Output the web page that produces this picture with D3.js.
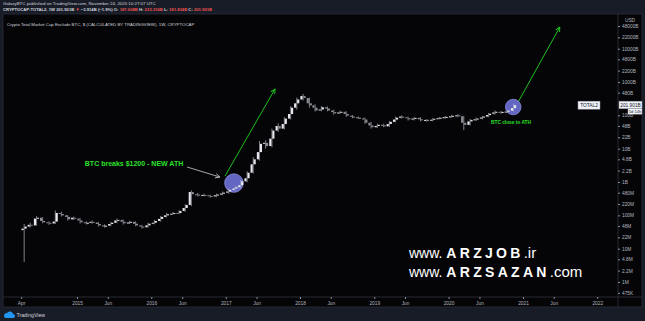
<!DOCTYPE html>
<html>
<head>
<meta charset="utf-8">
<script src="https://cdn.jsdelivr.net/npm/d3@7"></script>
<style>
  html, body { margin: 0; padding: 0; background: #161a25; }
  svg { display: block; font-family: "Liberation Sans", Arial, sans-serif; }
</style>
</head>
<body>
<svg id="chart" width="645" height="321"></svg>
<script>
// values in billions USD
const months = ["2014-04","2014-05","2014-06","2014-07","2014-08","2014-09","2014-10","2014-11","2014-12",
  "2015-01","2015-02","2015-03","2015-04","2015-05","2015-06","2015-07","2015-08","2015-09","2015-10","2015-11","2015-12",
  "2016-01","2016-02","2016-03","2016-04","2016-05","2016-06","2016-07","2016-08","2016-09","2016-10","2016-11","2016-12",
  "2017-01","2017-02","2017-03","2017-04","2017-05","2017-06","2017-07","2017-08","2017-09","2017-10","2017-11","2017-12",
  "2018-01","2018-02","2018-03","2018-04","2018-05","2018-06","2018-07","2018-08","2018-09","2018-10","2018-11","2018-12",
  "2019-01","2019-02","2019-03","2019-04","2019-05","2019-06","2019-07","2019-08","2019-09","2019-10","2019-11","2019-12",
  "2020-01","2020-02","2020-03","2020-04","2020-05","2020-06","2020-07","2020-08","2020-09","2020-10","2020-11"];
const firstOpen = 0.036;
// two closes per month (1st and 16th)
const halfCloses = [
  0.040,0.046, 0.052,0.050, 0.080,0.085, 0.068,0.062, 0.060,0.057, 0.065,0.118, 0.110,0.100, 0.090,0.076, 0.085,0.080,
  0.070,0.062, 0.058,0.060, 0.064,0.061, 0.055,0.050, 0.047,0.049, 0.055,0.060, 0.070,0.073, 0.064,0.058, 0.061,0.064, 0.056,0.050, 0.046,0.044, 0.050,0.056,
  0.060,0.068, 0.078,0.090, 0.100,0.108, 0.112,0.118, 0.117,0.135, 0.166,0.205, 0.50,0.43, 0.42,0.40, 0.41,0.40, 0.38,0.37, 0.40,0.42, 0.45,0.48,
  0.52,0.58, 0.64,0.70, 0.80,1.05, 1.3,1.9, 3.4,4.8, 7.9,14, 15,12, 20,35, 48,40, 55,80, 110,170, 230,300,
  380,330, 230,200, 170,140, 150,175, 160,140, 125,115, 122,128, 110,98, 92,88, 85,82, 75,60, 50,44,
  48,52, 50,47, 55,64, 75,85, 92,88, 82,76, 80,84, 76,72, 73,70, 74,79, 82,85, 88,90,
  93,97, 100,94, 60,52, 66,73, 76,80, 86,92, 102,112, 122,128, 124,127, 130,138, 165,202];
// monthly wick extents
const highs = [0.055,0.060,0.095,0.088,0.066,0.140,0.128,0.102,0.092,
  0.082,0.066,0.070,0.063,0.054,0.064,0.080,0.075,0.069,0.066,0.052,0.060,
  0.073,0.096,0.118,0.126,0.142,0.215,0.56,0.47,0.45,0.42,0.45,0.52,
  0.64,0.78,1.15,2.1,5.6,17,18,40,58,88,190,340,
  440,340,215,190,185,148,138,132,102,92,86,64,
  56,56,68,92,100,92,90,88,78,84,90,96,
  104,110,96,78,86,96,118,140,136,146,223];
const lows = [0.004,0.043,0.049,0.058,0.052,0.055,0.092,0.070,0.072,
  0.057,0.053,0.056,0.046,0.043,0.047,0.058,0.053,0.055,0.047,0.040,0.043,
  0.054,0.065,0.086,0.104,0.108,0.128,0.19,0.37,0.37,0.34,0.35,0.40,
  0.44,0.56,0.66,0.98,1.8,4.4,10,11,32,38,75,150,
  280,170,130,132,132,105,110,90,82,78,56,40,
  42,44,45,62,80,70,70,66,64,66,76,80,
  86,88,36,50,68,76,88,105,112,118,130];

const xTickDates = ["2014-04-01","2015-01-01","2015-06-01","2016-01-01","2016-06-01","2017-01-01","2017-06-01",
  "2018-01-01","2018-06-01","2019-01-01","2019-06-01","2020-01-01","2020-06-01","2021-01-01","2021-06-01","2022-01-01"];
const xTickLabels = ["Apr","2015","Jun","2016","Jun","2017","Jun","2018","Jun","2019","Jun","2020","Jun","2021","Jun","2022"];
const yTickValues = [475e3,1e6,2.2e6,4.8e6,1e7,2.2e7,4.8e7,1e8,2.2e8,4.8e8,1e9,2.2e9,4.8e9,1e10,2.2e10,4.8e10,
  1e11,4.8e11,1e12,2.2e12,4.8e12,1e13,2.2e13,4.8e13];
const yTickLabels = ["475K","1M","2.2M","4.8M","10M","22M","48M","100M","220M","480M","1B","2.2B","4.8B","10B","22B","48B",
  "100B","480B","1000B","2200B","4800B","10000B","22000B","48000B"];

const lastPrice = 201.901; // billions
const circles = [{date: "2017-02-10", value: 0.93, r: 9.3}, {date: "2020-11-14", value: 178, r: 7.8}];
const arrows = [
  {from: ["2016-12-28", 1.5], to: ["2017-08-31", 617], color: "#1fd41f"},
  {from: ["2020-12-08", 250], to: ["2021-07-01", 44700], color: "#1fd41f"},
  {from: ["2016-06-25", 2.82], to: ["2016-12-03", 1.41], color: "#b8b8b8"}
];
const notes = [
  {text: "BTC breaks $1200 - NEW ATH", date: "2016-06-06", value: 3.0, anchor: "end", size: 7},
  {text: "BTC close to ATH", date: "2020-11-03", value: 56, anchor: "middle", size: 4.8}
];

const svg = d3.select("#chart");
const pane = {left: 3, right: 618, top: 14, bottom: 297};
const parseM = d3.utcParse("%Y-%m");
const parseD = d3.utcParse("%Y-%m-%d");

const x = d3.scaleUtc()
  .domain([parseD("2014-01-02"), parseD("2022-04-13")])
  .range([pane.left, pane.right]);
const y = d3.scaleLog()
  .domain([3.55e5, 1.1e14])
  .range([pane.bottom, pane.top]);

// backgrounds
svg.append("rect").attr("width", 645).attr("height", 321).attr("fill", "#181c27");
svg.append("rect").attr("x", pane.left).attr("y", pane.top).attr("width", 642 - pane.left).attr("height", 307 - pane.top)
  .attr("fill", "#050508").attr("stroke", "#2a2e39").attr("stroke-width", 0.8);
svg.append("line").attr("x1", pane.right).attr("x2", pane.right).attr("y1", pane.top).attr("y2", 307)
  .attr("stroke", "#2f333e").attr("stroke-width", 0.8);
svg.append("line").attr("x1", pane.left).attr("x2", 642).attr("y1", pane.bottom).attr("y2", pane.bottom)
  .attr("stroke", "#2f333e").attr("stroke-width", 0.8);

svg.append("clipPath").attr("id", "clip").append("rect")
  .attr("x", pane.left).attr("y", pane.top).attr("width", pane.right - pane.left).attr("height", pane.bottom - pane.top);

// header
const head = svg.append("g").attr("font-size", 4.4);
head.append("text").attr("x", 3).attr("y", 5.2).attr("fill", "#d1d4dc")
  .text("GalaxyBTC published on TradingView.com, November 24, 2020 10:27:07 UTC");
const l2 = head.append("text").attr("x", 3).attr("y", 11.2).attr("fill", "#d1d4dc").attr("font-weight", "bold").attr("font-size", 4.2);
[["CRYPTOCAP:TOTAL2, 1W ", "#d1d4dc"], ["201.901B ", "#d1d4dc"], ["▼ ", "#ef5350"], ["−3.914B (−1.9%) ", "#d1d4dc"],
 ["O: ", "#d1d4dc"], ["187.008B ", "#ef5350"], ["H: ", "#d1d4dc"], ["223.336B ", "#ef5350"],
 ["L: ", "#d1d4dc"], ["181.834B ", "#ef5350"], ["C: ", "#d1d4dc"], ["201.901B", "#ef5350"]]
  .forEach(([t, c]) => l2.append("tspan").attr("fill", c).text(t));
svg.append("text").attr("x", 7).attr("y", 25.5).attr("font-size", 4.35).attr("fill", "#d1d4dc")
  .text("Crypto Total Market Cap Exclude BTC, $ (CALCULATED BY TRADINGVIEW), 1W, CRYPTOCAP");

// candles: bodies every half month, wicks per month
const bodies = halfCloses.map((c, i) => ({
  date: d3.utcDay.offset(parseM(months[Math.floor(i / 2)]), i % 2 ? 22 : 7),
  open: i === 0 ? firstOpen : halfCloses[i - 1],
  close: c
}));
const wicks = months.map((m, i) => ({date: d3.utcDay.offset(parseM(m), 15), high: highs[i], low: lows[i]}));
const bw = (x(parseD("2015-01-16")) - x(parseD("2015-01-01"))) * 0.7;
const cg = svg.append("g").attr("clip-path", "url(#clip)");
cg.selectAll("line.w").data(wicks).enter().append("line").attr("class", "w")
  .attr("x1", d => x(d.date)).attr("x2", d => x(d.date))
  .attr("y1", d => y(d.high * 1e9)).attr("y2", d => y(d.low * 1e9))
  .attr("stroke", "#b4b7bf").attr("stroke-width", 0.7);
const col = d => d.close >= d.open ? "#e6e8ee" : "#8c8f98";
cg.selectAll("rect.b").data(bodies).enter().append("rect").attr("class", "b")
  .attr("x", d => x(d.date) - bw / 2).attr("width", bw)
  .attr("y", d => y(Math.max(d.open, d.close) * 1e9))
  .attr("height", d => Math.max(1, Math.abs(y(d.open * 1e9) - y(d.close * 1e9))))
  .attr("fill", col);

// annotations
const defs = svg.append("defs");
arrows.forEach((a, i) => {
  defs.append("marker").attr("id", "ah" + i).attr("viewBox", "0 0 8 8").attr("refX", 7).attr("refY", 4)
    .attr("markerWidth", 6).attr("markerHeight", 6).attr("markerUnits", "userSpaceOnUse").attr("orient", "auto")
    .append("path").attr("d", "M1,1 L7,4 L1,7").attr("fill", "none").attr("stroke", a.color).attr("stroke-width", 1.2);
  svg.append("line")
    .attr("x1", x(parseD(a.from[0]))).attr("y1", y(a.from[1] * 1e9))
    .attr("x2", x(parseD(a.to[0]))).attr("y2", y(a.to[1] * 1e9))
    .attr("stroke", a.color).attr("stroke-width", 0.9).attr("marker-end", `url(#ah${i})`);
});
svg.selectAll("circle.hl").data(circles).enter().append("circle").attr("class", "hl")
  .attr("cx", d => x(parseD(d.date))).attr("cy", d => y(d.value * 1e9)).attr("r", d => d.r)
  .attr("fill", "#7174dc").attr("fill-opacity", 0.88).attr("stroke", "#a3a6ff").attr("stroke-width", 0.6);
// candles show through the circles in the reference
cg.raise();
svg.selectAll("text.note").data(notes).enter().append("text").attr("class", "note")
  .attr("x", d => x(parseD(d.date))).attr("y", d => y(d.value * 1e9))
  .attr("text-anchor", d => d.anchor).attr("font-size", d => d.size).attr("font-weight", "bold")
  .attr("fill", "#2be02b").text(d => d.text);

// watermark
const wm = [["www. ", "ARZJOB", ".ir", 258], ["www. ", "ARZSAZAN", ".com", 277]];
wm.forEach(([a, b, c, yy]) => {
  const t = svg.append("text").attr("x", 409).attr("y", yy).attr("fill", "#ffffff");
  t.append("tspan").attr("font-size", 14).text(a);
  t.append("tspan").attr("font-size", 14).attr("font-weight", "bold").attr("letter-spacing", 3.3).text(b);
  t.append("tspan").attr("font-size", 15).text(c);
});

// right axis
const ya = svg.append("g").attr("transform", `translate(${pane.right},0)`)
  .call(d3.axisRight(y).tickValues(yTickValues).tickFormat((d, i) => yTickLabels[i]).tickSize(2).tickPadding(2));
ya.select(".domain").remove();
ya.selectAll("line").attr("stroke", "#8a8d96");
ya.selectAll("text").attr("fill", "#b2b5be").attr("font-size", 4.8).attr("font-family", "Liberation Sans, Arial, sans-serif");
svg.append("text").attr("x", 630).attr("y", 21.5).attr("text-anchor", "middle").attr("font-size", 4.8)
  .attr("fill", "#b2b5be").text("USD");

// bottom axis
const xa = svg.append("g").attr("transform", `translate(0,${pane.bottom})`)
  .call(d3.axisBottom(x).tickValues(xTickDates.map(parseD)).tickFormat((d, i) => xTickLabels[i]).tickSize(2).tickPadding(3));
xa.select(".domain").remove();
xa.selectAll("line").attr("stroke", "#8a8d96");
xa.selectAll("text").attr("fill", "#b2b5be").attr("font-size", 4.8).attr("font-family", "Liberation Sans, Arial, sans-serif");

// price labels
const py = y(lastPrice * 1e9);
svg.append("rect").attr("x", 578).attr("y", py - 4).attr("width", 22).attr("height", 8)
  .attr("fill", "#f0f3fa").attr("stroke", "#9598a1").attr("stroke-width", 0.5);
svg.append("text").attr("x", 589).attr("y", py + 1.8).attr("text-anchor", "middle").attr("font-size", 4.8)
  .attr("fill", "#131722").text("TOTAL2");
svg.append("rect").attr("x", pane.right + 1).attr("y", py - 4).attr("width", 23).attr("height", 7.5)
  .attr("fill", "#f0f3fa").attr("stroke", "#9598a1").attr("stroke-width", 0.5);
svg.append("text").attr("x", pane.right + 12.5).attr("y", py + 1.6).attr("text-anchor", "middle").attr("font-size", 4.8)
  .attr("fill", "#131722").text(d3.format(".3f")(lastPrice) + "B");
svg.append("rect").attr("x", pane.right + 10).attr("y", py + 3.5).attr("width", 14).attr("height", 5.5)
  .attr("fill", "#f0f3fa").attr("stroke", "#9598a1").attr("stroke-width", 0.5);
svg.append("text").attr("x", pane.right + 17).attr("y", py + 7.6).attr("text-anchor", "middle").attr("font-size", 4)
  .attr("fill", "#131722").text("5d 14h");

// footer logo
const logo = svg.append("g").attr("transform", "translate(4,311)");
logo.append("path").attr("d", "M0,5 Q0,2 3,2 Q4,0 6.5,0.5 Q9,1 9,3 Q11,3 11,5 Q11,7 9,7 L2,7 Q0,7 0,5 Z").attr("fill", "#2196f3");
svg.append("text").attr("x", 16.5).attr("y", 316.5).attr("font-size", 5.2).attr("fill", "#d1d4dc").text("TradingView");
</script>
</body>
</html>
